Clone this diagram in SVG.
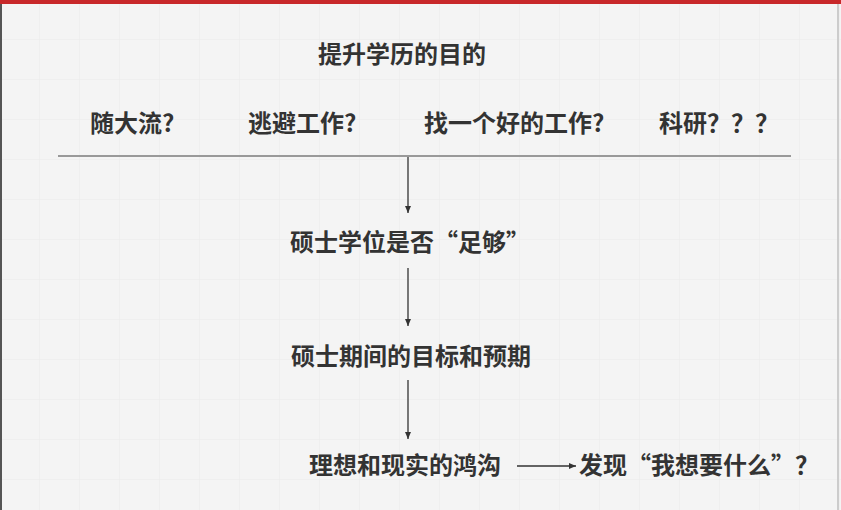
<svg xmlns="http://www.w3.org/2000/svg" width="841" height="510" viewBox="0 0 841 510">
<defs>
<pattern id="grid" width="40" height="40" patternUnits="userSpaceOnUse"><path d="M40 0V40H0" fill="none" stroke="#ebebeb" stroke-width="1"/></pattern>
<marker id="ah" markerWidth="8" markerHeight="8" refX="7" refY="4" orient="auto" markerUnits="userSpaceOnUse"><path d="M0,1 L7,4 L0,7 Z" fill="#333"/></marker>
<style>
text{font-family:"Noto Sans CJK SC","Liberation Sans",sans-serif;font-weight:bold;font-size:24px;fill:#333;}
.c{stroke:#333;stroke-width:1.3;fill:none;marker-end:url(#ah);}
</style>
</defs>
<rect width="841" height="510" fill="#f4f4f4"/>
<rect width="841" height="510" fill="url(#grid)"/>
<rect width="841" height="4" fill="#c8282a"/>
<line x1="1" y1="4" x2="1" y2="510" stroke="#555" stroke-width="2"/>
<line x1="838" y1="4" x2="838" y2="510" stroke="#ccc" stroke-width="2"/>
<g id="title"><text x="318" y="63">提升学历的目的</text></g>
<g id="opt1"><text x="90" y="132">随大流?</text></g>
<g id="opt2"><text x="248" y="132">逃避工作?</text></g>
<g id="opt3"><text x="424" y="132">找一个好的工作?</text></g>
<g id="opt4"><text x="659" y="132">科研？？？</text></g>
<g id="divider"><line x1="58" y1="156" x2="791" y2="156" stroke="#999" stroke-width="2"/></g>
<g id="n1"><text x="290" y="251">硕士学位是否“足够”</text></g>
<g id="n2"><text x="291" y="365">硕士期间的目标和预期</text></g>
<g id="n3"><text x="309" y="474">理想和现实的鸿沟</text></g>
<g id="n4"><text x="579" y="474">发现“我想要什么”？</text></g>
<g id="connectors">
<line class="c" x1="408" y1="157" x2="408" y2="213"/>
<line class="c" x1="408" y1="268" x2="408" y2="326"/>
<line class="c" x1="408" y1="380" x2="408" y2="439"/>
<line class="c" x1="517" y1="466" x2="576" y2="466"/>
</g>
</svg>
